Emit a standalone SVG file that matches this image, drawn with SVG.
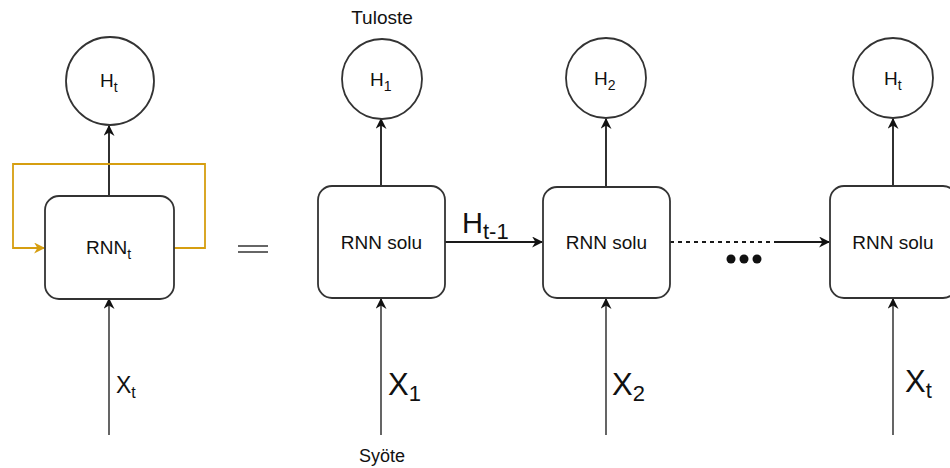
<svg xmlns="http://www.w3.org/2000/svg" width="950" height="468" viewBox="0 0 950 468">
<defs>
<marker id="ah" viewBox="0 0 10 10" refX="9" refY="5" markerWidth="11" markerHeight="11" orient="auto" markerUnits="userSpaceOnUse">
<path d="M0,0 L10,5 L0,10 L3,5 Z" fill="#111"/>
</marker>
<marker id="ahy" viewBox="0 0 10 10" refX="9" refY="5" markerWidth="12" markerHeight="11" orient="auto" markerUnits="userSpaceOnUse">
<path d="M0,0 L10,5 L0,10 L3,5 Z" fill="#d69e10"/>
</marker>
<style>
.box{fill:#fff;stroke:#333;stroke-width:1.8}
.c{fill:#fff;stroke:#333;stroke-width:1.8}
.t{font-family:"Liberation Sans",Arial,sans-serif;fill:#111}
.l{stroke:#1a1a1a;stroke-width:1.8;fill:none}
.in{stroke:#555;stroke-width:1.8;fill:none}
</style>
</defs>
<rect width="950" height="468" fill="#fff"/>
<g id="connectors">
<path class="l" d="M109,196 V126" marker-end="url(#ah)"/>
<path d="M174,248 H205 V164 H13 V248 H44" fill="none" stroke="#d69e10" stroke-width="1.8" marker-end="url(#ahy)"/>
<path class="in" d="M109,435 V299" marker-end="url(#ah)"/>
<path class="l" d="M381,186 V119" marker-end="url(#ah)"/>
<path class="in" d="M381,435 V299" marker-end="url(#ah)"/>
<path class="l" d="M445,242 H542" marker-end="url(#ah)"/>
<path class="l" d="M606,187 V119" marker-end="url(#ah)"/>
<path class="in" d="M606,435 V299" marker-end="url(#ah)"/>
<path class="l" d="M670,242 H775" stroke-dasharray="4,4"/>
<path class="l" d="M775,242 H829" marker-end="url(#ah)"/>
<path class="l" d="M893,186 V119" marker-end="url(#ah)"/>
<path class="in" d="M893,435 V299" marker-end="url(#ah)"/>
</g>
<g id="eq"><path d="M238,246 H268 M238,252 H268" stroke="#666" stroke-width="2"/></g>
<g id="dots" fill="#111"><circle cx="731" cy="259" r="4.5"/><circle cx="744" cy="259" r="4.5"/><circle cx="757" cy="259" r="4.5"/></g>
<g id="node-Ht-left"><circle class="c" cx="110" cy="81" r="44"/><text class="t" x="100" y="87" font-size="19">H<tspan font-size="14" dy="5">t</tspan></text></g>
<g id="node-rnn-left"><rect class="box" x="45" y="196" width="129" height="103" rx="14"/><text class="t" x="86" y="254" font-size="19">RNN<tspan font-size="14" dy="5">t</tspan></text></g>
<g id="label-xt-left"><text class="t" x="116" y="393" font-size="23">X<tspan font-size="16" dy="5">t</tspan></text></g>
<g id="label-tuloste"><text class="t" x="382" y="24" font-size="19" text-anchor="middle">Tuloste</text></g>
<g id="node-H1"><circle class="c" cx="382" cy="79" r="40"/><text class="t" x="370" y="86" font-size="19">H<tspan font-size="14" dy="5">1</tspan></text></g>
<g id="node-H2"><circle class="c" cx="606" cy="78" r="40"/><text class="t" x="594" y="85" font-size="19">H<tspan font-size="14" dy="5">2</tspan></text></g>
<g id="node-Ht"><circle class="c" cx="893" cy="78" r="40"/><text class="t" x="884" y="85" font-size="19">H<tspan font-size="14" dy="5">t</tspan></text></g>
<g id="node-rnn1"><rect class="box" x="318" y="186" width="127" height="112" rx="14"/><text class="t" x="381.5" y="249" font-size="19" text-anchor="middle">RNN solu</text></g>
<g id="node-rnn2"><rect class="box" x="543" y="187" width="127" height="111" rx="14"/><text class="t" x="606.5" y="249" font-size="19" text-anchor="middle">RNN solu</text></g>
<g id="node-rnn3"><rect class="box" x="830" y="186" width="127" height="112" rx="14"/><text class="t" x="893" y="249" font-size="19" text-anchor="middle">RNN solu</text></g>
<g id="label-ht1"><text class="t" x="462" y="233" font-size="29">H<tspan font-size="22" dy="6">t-1</tspan></text></g>
<g id="label-x1"><text class="t" x="388" y="395" font-size="31">X<tspan font-size="22" dy="6">1</tspan></text></g>
<g id="label-x2"><text class="t" x="612" y="395" font-size="31">X<tspan font-size="22" dy="6">2</tspan></text></g>
<g id="label-xt"><text class="t" x="905" y="392" font-size="31">X<tspan font-size="22" dy="6">t</tspan></text></g>
<g id="label-syote"><text class="t" x="382" y="462" font-size="18" text-anchor="middle">Syöte</text></g>
</svg>
